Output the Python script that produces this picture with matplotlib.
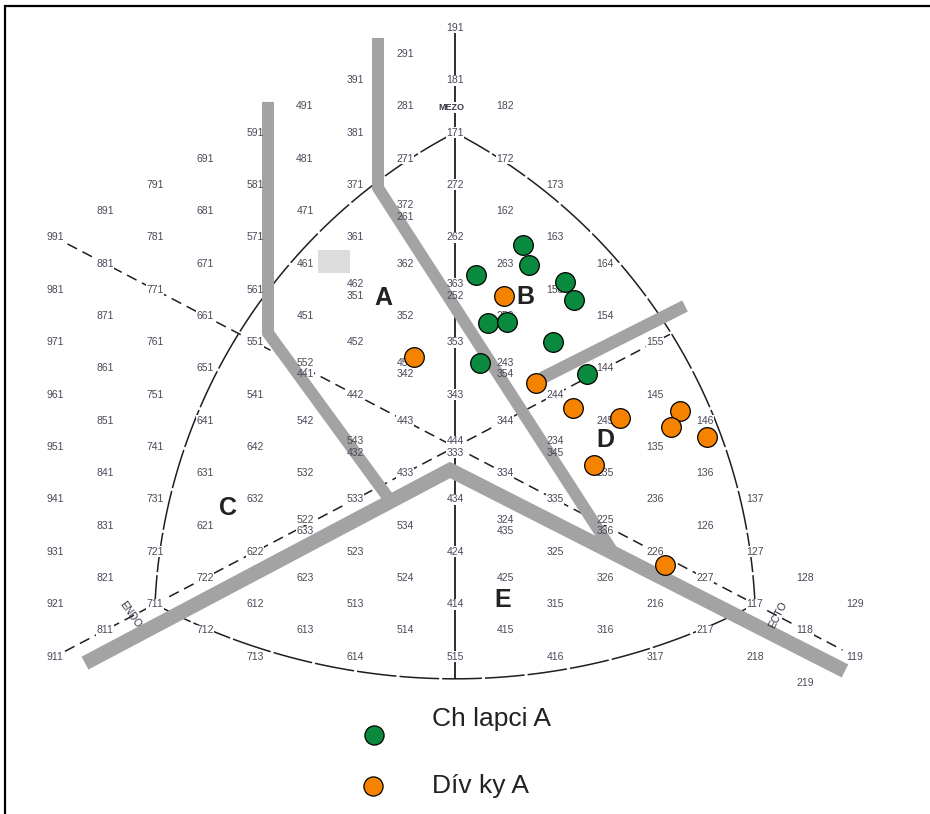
import numpy as np
import matplotlib
matplotlib.use("Agg")
import matplotlib.pyplot as plt
from matplotlib.patches import Rectangle

plt.rcParams["font.family"] = ["Liberation Sans", "DejaVu Sans"]

# somatotype grid labels (endo, mezo, ecto); "a/b" = two labels stacked on one spot
grid_labels = [
    "191", "291", "391", "181", "491", "281", "591", "381", "171", "691", "481",
    "271", "182", "791", "581", "371", "272", "172", "173", "891", "681", "471",
    "372/261", "162", "991", "781", "571", "361", "262", "163", "881", "671",
    "461", "362", "263", "164", "981", "771", "561", "462/351", "363/252", "153",
    "871", "661", "451", "352", "253", "154", "971", "761", "551", "452", "353",
    "155", "861", "651", "552/441", "453/342", "243/354", "144", "961", "751",
    "541", "442", "343", "244", "145", "851", "641", "542", "443", "344", "245",
    "146", "951", "741", "642", "543/432", "444/333", "234/345", "135", "841",
    "631", "532", "433", "334", "235", "136", "941", "731", "632", "533", "434",
    "335", "236", "137", "831", "621", "522/633", "534", "324/435", "225/336",
    "126", "931", "721", "622", "523", "424", "325", "226", "127", "821", "722",
    "623", "524", "425", "326", "227", "128", "921", "711", "612", "513", "414",
    "315", "216", "117", "129", "811", "712", "613", "514", "415", "316", "217",
    "118", "911", "713", "614", "515", "416", "317", "218", "119", "219",
]

# somatochart coordinates of the pupils (x = ecto - endo, y = 2*mezo - endo - ecto)
boys_x = [1.36, 1.48, 0.42, 2.20, 2.38, 0.66, 1.04, 1.96, 0.50, 2.64]
boys_y = [7.71, 6.95, 6.56, 6.30, 5.61, 4.73, 4.77, 4.01, 3.21, 2.79]
girls_x = [0.98, -0.82, 1.62, 2.36, 3.30, 4.50, 4.32, 5.04, 2.78, 4.20]
girls_y = [5.76, 3.44, 2.44, 1.49, 1.11, 1.37, 0.76, 0.38, -0.69, -4.50]

# region letters
region_names = ["A", "B", "C", "D", "E"]
region_x = [-1.44, 1.40, -4.54, 3.00, 0.96]
region_y = [5.69, 5.73, -2.33, 0.27, -5.84]

# thick grey borders between the regions
borders = [
    [(-3.74, 13.17), (-3.74, 4.35), (-1.32, -1.98)],
    [(-1.54, 15.61), (-1.54, 9.89), (3.18, -4.08)],
    [(-7.40, -8.25), (-0.10, -0.88), (7.80, -8.55)],
    [(1.74, 2.63), (4.60, 5.38)],
]
border_widths = [8.6, 8.6, 10.5, 9.0]

GREEN = "#0a8a3e"
ORANGE = "#f58300"
GREY = "#a3a3a3"
INK = "#4c4858"
ASPECT = 50 / 26.2  # one x unit is this many y units on screen


def soma_xy(code):
    endo, mezo, ecto = int(code[0]), int(code[1]), int(code[2])
    return ecto - endo, 2 * mezo - endo - ecto


def arc(p0, p1, sag, n=120):
    a = np.array([p0[0] * ASPECT, p0[1]])
    b = np.array([p1[0] * ASPECT, p1[1]])
    mid = (a + b) / 2
    d = b - a
    L = np.hypot(*d)
    u = d / L
    nrm = np.array([-u[1], u[0]])
    if np.dot(nrm, mid) < 0:  # bulge away from the centre of the chart
        nrm = -nrm
    r = (L / 2) ** 2 / (2 * sag) + sag / 2
    s = np.linspace(-L / 2, L / 2, n)
    off = np.sqrt(r**2 - s**2) - (r - sag)
    pts = mid + np.outer(s, u) + np.outer(off, nrm)
    return pts[:, 0] / ASPECT, pts[:, 1]


fig = plt.figure(figsize=(9.3, 8.14), dpi=100)
ax = fig.add_axes([0, 0, 1, 1])
ax.set_xlim(-9.1, 9.5)
ax.set_ylim(-14.01, 17.06)
ax.axis("off")

# frame
fig.patches.append(
    Rectangle((5 / 930, -0.05), 1.2, 1.05 - 6 / 814, transform=fig.transFigure,
              fill=False, ec="black", lw=1.6)
)

# thin construction lines
top, left, right = soma_xy("171"), soma_xy("711"), soma_xy("117")
arc_style = dict(color="#1e1e1e", lw=1.1, ls=(0, (26, 2)), zorder=1)
for p0, p1 in [(top, left), (top, right), (left, right)]:
    ax.plot(*arc(p0, p1, 2.85), **arc_style)

ax.plot([0, 0], [16.2, -8.82], color="#1e1e1e", lw=1.3, zorder=1)
dash = dict(color="#1e1e1e", lw=1.1, ls=(0, (7, 4)), zorder=1)
ax.plot([-7.75, 7.75], [7.75, -7.75], **dash)
ax.plot([-7.8, 4.3], [-7.8, 4.3], **dash)

ax.add_patch(Rectangle((-2.74, 6.64), 0.64, 0.88, fc="#dcdcdc", ec="none", zorder=1.5))

# labels: white knock-out under the grey borders, text above them
lab_kw = dict(ha="center", va="center", fontsize=7.5)
for lab in grid_labels:
    parts = lab.split("/")
    x, y = soma_xy(parts[0])
    offs = [0.0] if len(parts) == 1 else [0.22, -0.22]
    for txt, dy in zip(parts, offs):
        ax.text(x, y + dy, txt, color="none", zorder=2,
                bbox=dict(fc="white", ec="none", pad=0.4), **lab_kw)
        ax.text(x, y + dy, txt, color=INK, zorder=5, **lab_kw)

ax.text(-0.08, 12.95, "MEZO", ha="center", va="center", fontsize=6.5,
        fontweight="bold", color="#333344", zorder=5,
        bbox=dict(fc="white", ec="none", pad=0.5))
ax.text(-6.5, -6.4, "ENDO", ha="center", va="center", fontsize=7.5,
        rotation=-55, color="#333344", zorder=5)
ax.text(6.46, -6.4, "ECTO", ha="center", va="center", fontsize=7.5,
        rotation=63, color="#333344", zorder=5)

for pts, lw in zip(borders, border_widths):
    xs, ys = zip(*pts)
    ax.plot(xs, ys, color=GREY, lw=lw, solid_capstyle="butt",
            solid_joinstyle="miter", zorder=3)

for name, x, y in zip(region_names, region_x, region_y):
    ax.text(x, y, name, ha="center", va="center", fontsize=18,
            fontweight="bold", color="#222222", zorder=5)

ax.scatter(boys_x, boys_y, s=200, c=GREEN, edgecolors="black", linewidths=0.9, zorder=6)
ax.scatter(girls_x, girls_y, s=200, c=ORANGE, edgecolors="black", linewidths=0.9, zorder=6)

# legend
ax.scatter([0.402], [0.097], s=190, c=GREEN, edgecolors="black", linewidths=0.9,
           transform=ax.transAxes, clip_on=False, zorder=6)
ax.scatter([0.401], [0.0344], s=190, c=ORANGE, edgecolors="black", linewidths=0.9,
           transform=ax.transAxes, clip_on=False, zorder=6)
ax.text(0.4645, 0.1167, "Ch lapci A", transform=ax.transAxes, ha="left",
        va="center", fontsize=19, color="#222222")
ax.text(0.4645, 0.0344, "Dív ky A", transform=ax.transAxes, ha="left",
        va="center", fontsize=19, color="#222222")

fig.savefig("out.png", dpi=100)
